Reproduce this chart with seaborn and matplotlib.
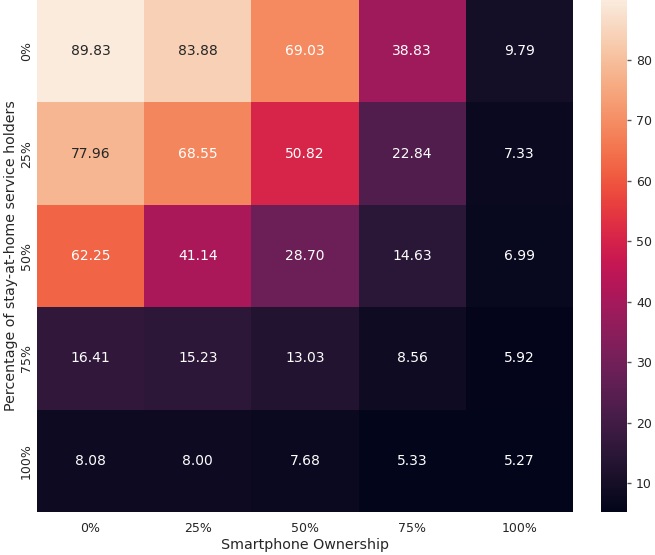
import numpy as np
import pandas as pd
import matplotlib
matplotlib.use("Agg")
import matplotlib.pyplot as plt
import seaborn as sns

row_labels = ["0%", "25%", "50%", "75%", "100%"]
col_labels = ["0%", "25%", "50%", "75%", "100%"]
row_0 = [89.83, 83.88, 69.03, 38.83, 9.79]
row_25 = [77.96, 68.55, 50.82, 22.84, 7.33]
row_50 = [62.25, 41.14, 28.70, 14.63, 6.99]
row_75 = [16.41, 15.23, 13.03, 8.56, 5.92]
row_100 = [8.08, 8.00, 7.68, 5.33, 5.27]

df = pd.DataFrame([row_0, row_25, row_50, row_75, row_100],
                  index=row_labels, columns=col_labels)

sns.set_theme(style="darkgrid")
plt.rcParams['font.family'] = ['DejaVu Sans']

fig = plt.figure(figsize=(6.55, 5.55), dpi=100)
ax = fig.add_axes([37/655, 43/555, 536/655, 512/555])
cax = fig.add_axes([601/655, 43/555, 26/655, 512/555])

sns.heatmap(df, annot=True, fmt=".2f", cmap="rocket", ax=ax, cbar_ax=cax,
            annot_kws={"size": 10})
ax.set_xlabel("Smartphone Ownership", fontsize=10.3, labelpad=2)
ax.set_ylabel("Percentage of stay-at-home service holders", fontsize=10.3, labelpad=1)
ax.tick_params(axis='x', labelsize=9, length=0, pad=7)
ax.tick_params(axis='y', labelsize=9, length=0, pad=3)
plt.setp(ax.get_yticklabels(), rotation=90, va="center")
plt.setp(ax.get_xticklabels(), rotation=0)
cax.tick_params(labelsize=9, length=3, width=1, pad=3.5, right=True, color="#555555")

fig.savefig("out.png", dpi=100)
